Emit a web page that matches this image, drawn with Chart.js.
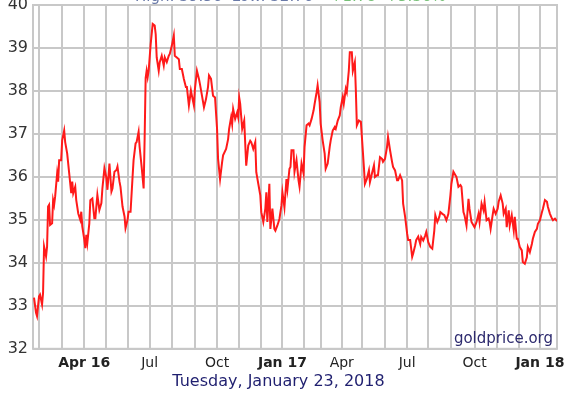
<!DOCTYPE html>
<html><head><meta charset="utf-8">
<script src="https://cdn.jsdelivr.net/npm/chart.js@4"></script>
<style>html,body{margin:0;padding:0;background:#fff;overflow:hidden}</style>
</head><body>
<canvas id="c" width="568" height="397"></canvas>
<script>
// sample index (weekday trading index from Jan 25 2016) and silver price (USD/oz)
const sampleIdx = [1,3,4,6,7,9,10,11,13,14,15,16,17,19,20,21,22,24,25,26,28,29,31,32,34,36,38,39,40,42,43,45,47,48,49,51,52,53,54,56,57,59,61,62,64,66,68,69,71,73,74,76,78,79,81,83,84,86,87,89,91,92,94,95,97,99,100,102,103,105,106,108,110,111,112,113,114,115,117,119,121,122,123,125,
126,128,130,131,133,135,136,138,140,141,143,145,146,148,150,152,153,155,157,158,160,161,163,165,166,168,170,172,174,175,177,179,181,183,184,186,188,189,192,194,195,197,198,199,201,203,204,205,206,208,210,212,214,216,217,219,221,222,224,226,227,229,231,232,233,235,236,238,240,241,243,245,247,248,250,252,253,255,
256,257,259,260,262,264,265,267,269,270,272,274,275,277,279,280,282,283,285,286,288,290,291,293,295,296,298,300,301,303,305,306,308,309,311,312,314,315,317,318,320,321,322,324,326,327,329,330,332,334,335,337,339,340,342,343,345,347,348,350,352,353,355,357,358,360,362,363,365,367,368,370,372,373,375,377,378,380,381,383,
385,386,388,390,391,393,395,397,399,400,402,404,405,407,409,411,413,415,416,418,420,421,423,425,426,428,429,431,433,434,436,438,439,441,443,444,446,448,449,451,453,454,455,457,458,460,462,463,465,467,468,470,471,473,474,476,478,479,481,482,484,486,487,489,491,492,494,496,497,499,501,502,504,506,507,509,511,512,514,516,517,519,521];
const prices = [33.19,32.84,32.76,33.22,33.26,33.03,33.30,34.38,34.15,34.38,35.31,35.35,34.88,34.92,35.46,35.35,35.54,36.08,35.89,36.39,36.39,36.85,37.08,36.81,36.54,36.08,35.62,35.89,35.62,35.77,35.46,35.15,35.00,35.19,34.85,34.54,34.34,34.65,34.46,34.92,35.46,35.50,35.04,35.04,35.58,35.23,35.39,35.73,36.20,35.97,35.70,36.31,35.66,35.73,36.12,36.16,36.24,35.89,35.77,35.31,35.08,34.81,35.00,35.19,35.19,36.00,36.39,36.78,36.81,37.05,36.70,36.24,35.73,36.90,38.30,38.47,38.32,38.47,39.09,39.56,39.52,39.32,38.78,38.47,
38.67,38.82,38.59,38.78,38.67,38.82,38.86,39.05,39.29,38.82,38.78,38.74,38.51,38.51,38.28,38.09,38.09,37.66,38.01,37.89,37.66,38.05,38.47,38.28,38.16,37.89,37.62,37.81,38.09,38.36,38.28,37.89,37.85,37.12,36.42,35.95,36.34,36.50,36.65,36.88,37.12,37.39,37.23,37.58,37.35,37.50,37.39,37.85,37.70,37.12,37.31,36.26,36.73,36.84,36.81,36.65,36.81,36.11,35.84,35.57,35.18,34.95,35.26,35.64,34.95,35.84,34.79,35.26,34.79,34.75,34.87,35.02,35.33,35.64,35.29,35.95,35.72,36.19,
36.23,36.62,36.62,36.12,36.39,35.92,35.77,36.31,36.08,36.70,37.20,37.24,37.20,37.35,37.55,37.70,37.97,38.13,37.74,37.24,36.85,36.54,36.19,36.31,36.70,36.85,37.08,37.16,37.12,37.31,37.43,37.62,37.86,37.70,38.05,37.97,38.47,38.90,38.90,38.47,38.67,38.01,37.20,37.31,37.28,36.93,36.23,35.84,35.96,36.15,35.88,36.08,36.27,36.00,36.04,36.04,36.46,36.42,36.35,36.42,36.70,36.93,36.62,36.35,36.23,36.15,35.92,35.92,36.04,35.92,35.38,35.07,34.68,34.53,34.53,34.14,34.22,34.41,34.53,34.61,
34.44,34.60,34.52,34.64,34.72,34.48,34.37,34.33,34.75,35.11,34.95,35.07,35.18,35.14,35.11,34.99,35.14,35.57,35.84,36.12,36.04,36.00,35.77,35.81,35.77,35.18,35.11,34.87,35.49,35.26,34.95,34.87,34.83,34.95,35.14,34.95,35.38,35.22,35.42,34.99,35.03,34.95,34.79,35.11,35.26,35.14,35.26,35.42,35.57,35.38,35.14,35.26,34.83,35.22,34.87,35.11,34.75,35.07,34.56,34.56,34.37,34.29,34.02,33.98,34.13,34.37,34.25,34.44,34.56,34.72,34.79,34.91,34.99,35.18,35.26,35.46,35.42,35.30,35.14,35.03,34.99,35.03,34.97];
// first sample index of each month (Feb 2016 .. Jan 2018)
const monthTicks = [6,29,51,73,94,116,138,161,183,205,227,248,269,286,307,327,350,372,393,416,439,461,483,504];
const monthLabels = ['','','Apr 16','','','Jul','','','Oct','','','Jan 17','','','Apr','','','Jul','','','Oct','','','Jan 18'];
const xMin = 0, xMax = 521;
const yMin = 32, yMax = 40, yStep = 1;
const dateText = 'Tuesday, January 23, 2018';
const headLeft = 'High: 39.56  Low: 32.76';
const headRight = '+1.78  +5.36%';
const sourceText = 'goldprice.org';

const FONT = "'DejaVu Sans', Verdana, sans-serif";
const GRID = '#c8c8c8';

const decor = {
  id: 'decor',
  beforeDatasetsDraw(chart) {
    const {ctx, chartArea: a} = chart;
    ctx.save();
    ctx.strokeStyle = GRID;
    ctx.lineWidth = 2;
    ctx.strokeRect(a.left, a.top, a.right - a.left, a.bottom - a.top);
    ctx.restore();
  },
  afterDraw(chart) {
    const {ctx, chartArea: a} = chart;
    ctx.save();
    ctx.font = '15px ' + FONT;
    ctx.textAlign = 'right';
    ctx.textBaseline = 'alphabetic';
    ctx.fillStyle = '#2d2a6e';
    ctx.fillText(sourceText, a.right - 4, a.bottom - 6);
    ctx.font = '15px ' + FONT;
    ctx.textAlign = 'left';
    ctx.fillStyle = '#6a7aa8';
    ctx.fillText(headLeft, 135, 0.5);
    ctx.fillStyle = '#77c077';
    ctx.fillText(headRight, 330, 0.5);
    ctx.restore();
  }
};

new Chart(document.getElementById('c'), {
  type: 'line',
  data: {
    datasets: [{
      data: sampleIdx.map((x, i) => ({x: x, y: prices[i]})),
      borderColor: '#ff1a1a',
      borderWidth: 2,
      pointRadius: 0,
      tension: 0,
      fill: false
    }]
  },
  options: {
    responsive: false,
    devicePixelRatio: 1,
    animation: false,
    layout: {padding: {top: 5, right: 11, bottom: 0, left: 0}},
    plugins: {
      legend: {display: false},
      tooltip: {enabled: false},
      title: {
        display: true, position: 'bottom', text: dateText, color: '#1f1f6f',
        font: {family: FONT, size: 16, weight: 'normal'},
        padding: {top: 2, bottom: 6}
      }
    },
    scales: {
      x: {
        type: 'linear', min: xMin, max: xMax,
        afterBuildTicks(s) { s.ticks = monthTicks.map(v => ({value: v})); },
        afterFit(s) { s.height = 21; s.paddingLeft = 0; s.paddingRight = 0; },
        grid: {color: GRID, lineWidth: 2, drawTicks: false},
        border: {display: false},
        ticks: {
          autoSkip: false, maxRotation: 0, minRotation: 0, padding: 6,
          color: '#222',
          callback: (v, i) => monthLabels[i],
          font: (c) => ({family: FONT, size: 14, weight: (monthLabels[c.index] || '').indexOf(' ') > 0 ? 'bold' : 'normal'})
        }
      },
      y: {
        min: yMin, max: yMax,
        afterFit(s) { s.width = 33; s.paddingTop = 0; s.paddingBottom = 0; },
        grid: {color: GRID, lineWidth: 2, drawTicks: false},
        border: {display: false},
        ticks: {stepSize: yStep, padding: 5, color: '#333', font: {family: FONT, size: 16}}
      }
    }
  },
  plugins: [decor]
});
</script>
</body></html>
